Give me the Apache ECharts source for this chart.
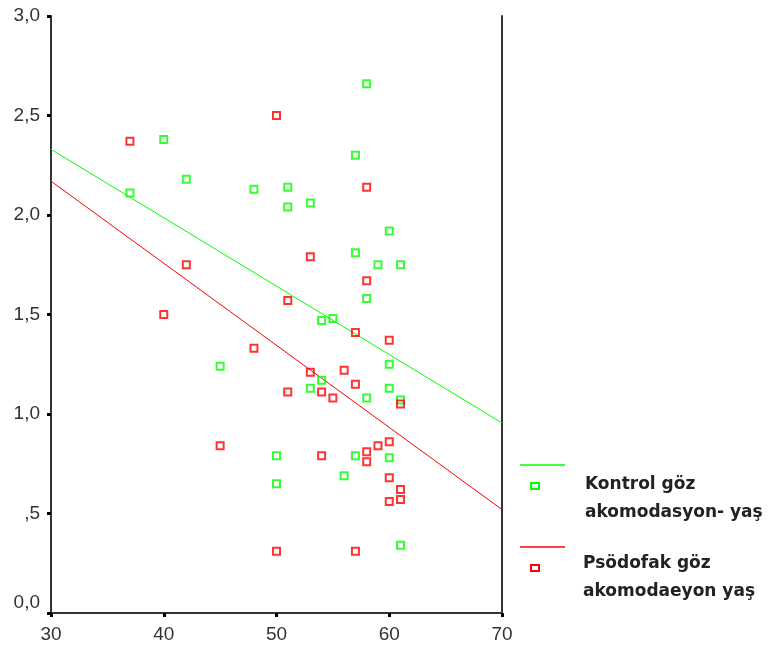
<!DOCTYPE html>
<html>
<head>
    <meta charset="utf-8">
    <script type="text/javascript" src="https://cdn.jsdelivr.net/npm/echarts@6/dist/echarts.min.js"></script>
    <style type="text/css">
        *{ margin: 0; padding: 0; }
        body{ background: #ffffff; }
        #main{ width: 776px; height: 645px; }
    </style>
</head>
<body>
<div id="main"></div>
<script type="text/javascript">
    // Kontrol göz: [yaş, akomodasyon]
    var kontrolPts = [
        [58, 2.66], [40, 2.38], [42, 2.18], [37, 2.11], [57, 2.30], [48, 2.13],
        [51, 2.14], [51, 2.04], [53, 2.06], [57, 1.81], [60, 1.92], [59, 1.75],
        [61, 1.75], [58, 1.58], [54, 1.47], [55, 1.48], [45, 1.24], [60, 1.25],
        [53, 1.13], [54, 1.17], [60, 1.13], [58, 1.08], [61, 1.07], [50, 0.79],
        [50, 0.65], [56, 0.69], [57, 0.79], [60, 0.78], [61, 0.34]
    ];
    // Psödofak göz
    var psodofakPts = [
        [37, 2.37], [50, 2.50], [58, 2.14], [53, 1.79], [42, 1.75], [58, 1.67],
        [40, 1.50], [51, 1.57], [57, 1.41], [60, 1.37], [48, 1.33], [56, 1.22],
        [53, 1.21], [57, 1.15], [51, 1.11], [54, 1.11], [55, 1.08], [61, 1.05],
        [45, 0.84], [54, 0.79], [58, 0.81], [58, 0.76], [59, 0.84], [60, 0.86],
        [60, 0.68], [61, 0.62], [60, 0.56], [61, 0.57], [50, 0.31], [57, 0.31]
    ];
    // fit lines, read at both ends of the x range
    var kontrolFit = [[30, 2.33], [70, 0.955]];
    var psodofakFit = [[30, 2.17], [70, 0.52]];

    var yLabels = {'0': '{z|0,0}', '0.5': ',5', '1': '1,0', '1.5': '1,5', '2': '2,0', '2.5': '2,5', '3': '3,0'};

    var GREEN = '#00ff00', RED = '#ff0000', AX = '#333333';
    var font = 'Arial';

    var myChart = echarts.init(document.getElementById('main'));

    function pointSeries(name, data, color) {
        return {
            name: name, type: 'scatter', data: data,
            symbol: 'rect', symbolSize: 7,
            itemStyle: { color: 'rgba(255,255,255,0)', borderColor: color, borderWidth: 2 },
            silent: true, z: 3
        };
    }
    function lineSeries(data, color) {
        return {
            type: 'line', data: data, symbol: 'none', silent: true,
            lineStyle: { color: color, width: 1 }, z: 2
        };
    }

    var legendText = { fill: '#222', font: 'bold 17px "DejaVu Sans", sans-serif', lineHeight: 28 };

    var option = {
        backgroundColor: '#ffffff',
        animation: false,
        textStyle: { fontFamily: font },
        grid: { left: 51, right: 274, top: 16, bottom: 32 },
        xAxis: [{
            type: 'value', min: 30, max: 70, interval: 10,
            axisLine: { lineStyle: { color: AX, width: 2 } },
            axisTick: { length: 4, lineStyle: { color: '#000', width: 3 } },
            axisLabel: { color: '#333', fontSize: 19, fontFamily: font, margin: 12 },
            splitLine: { show: false }
        }, {
            type: 'value', min: 30, max: 70, position: 'top',
            axisLine: { show: true, lineStyle: { color: AX, width: 2 } },
            axisTick: { show: false }, axisLabel: { show: false }, splitLine: { show: false }
        }],
        yAxis: [{
            type: 'value', min: 0, max: 3, interval: 0.5,
            axisLine: { show: true, lineStyle: { color: AX, width: 2 } },
            axisTick: { show: true, length: 4, lineStyle: { color: '#000', width: 3 } },
            axisLabel: {
                color: '#333', fontSize: 19, fontFamily: font, margin: 11,
                formatter: function (v) { return yLabels[String(v)]; },
                rich: { z: { fontSize: 19, fontFamily: font, color: '#333', padding: [0, 0, 20, 0] } }
            },
            splitLine: { show: false }
        }, {
            type: 'value', min: 0, max: 3, position: 'right',
            axisLine: { show: true, lineStyle: { color: AX, width: 2 } },
            axisTick: { show: false }, axisLabel: { show: false }, splitLine: { show: false }
        }],
        series: [
            lineSeries(kontrolFit, GREEN),
            lineSeries(psodofakFit, RED),
            pointSeries('Kontrol göz akomodasyon- yaş', kontrolPts, GREEN),
            pointSeries('Psödofak göz akomodaeyon yaş', psodofakPts, RED)
        ],
        graphic: [
            { type: 'line', shape: { x1: 520, y1: 465, x2: 565, y2: 465 }, style: { stroke: GREEN, lineWidth: 1.5 } },
            { type: 'rect', shape: { x: 531, y: 483, width: 8, height: 6 }, style: { fill: 'none', stroke: GREEN, lineWidth: 2 } },
            { type: 'text', left: 585, top: 471, style: Object.assign({ text: 'Kontrol göz\nakomodasyon- yaş' }, legendText) },
            { type: 'line', shape: { x1: 520, y1: 547, x2: 565, y2: 547 }, style: { stroke: RED, lineWidth: 1.5 } },
            { type: 'rect', shape: { x: 531, y: 565, width: 8, height: 6 }, style: { fill: 'none', stroke: RED, lineWidth: 2 } },
            { type: 'text', left: 583, top: 550, style: Object.assign({ text: 'Psödofak göz\nakomodaeyon yaş' }, legendText) }
        ]
    };
    myChart.setOption(option);
</script>
</body>
</html>
